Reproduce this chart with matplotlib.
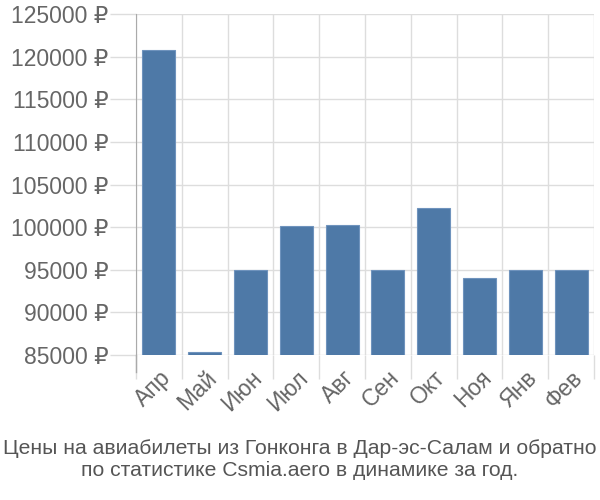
import matplotlib
matplotlib.use("Agg")
import matplotlib.pyplot as plt
import numpy as np

# monthly ticket prices, RUB
months = ['Апр', 'Май', 'Июн', 'Июл', 'Авг', 'Сен', 'Окт', 'Ноя', 'Янв', 'Фев']
prices = [120800, 85300, 95000, 100170, 100300, 95000, 102300, 94050, 95000, 95000]
y_ticks = list(range(85000, 125001, 5000))

plt.rcParams['font.family'] = ['Liberation Sans', 'DejaVu Sans']

fig = plt.figure(figsize=(6, 5), dpi=100)
ax = fig.add_axes([0.2267, 0.29, 0.7633, 0.682])

x = np.arange(len(months))
ax.bar(x, prices, width=0.72, color='#4e79a7', edgecolor='#6f93bd', linewidth=0.8, zorder=3)

ax.set_xlim(-0.5, len(months) - 0.5)
ax.set_ylim(85000, 125000)

ax.set_yticks(y_ticks)
ax.set_yticklabels([f'{v} ₽' for v in y_ticks], fontsize=16.5, color='#666666')
ax.tick_params(axis='y', length=19, width=1, color='#dddddd', pad=1)

# category boundaries carry the vertical grid
ax.set_xticks(x)
ax.set_xticklabels(months, rotation=45, ha='right', rotation_mode='anchor',
                   fontsize=16.5, color='#666666')
ax.tick_params(axis='x', length=0, pad=8)
ax.set_xticks(np.arange(-0.5, len(months)), minor=True)
ax.tick_params(axis='x', which='minor', length=17, width=1, color='#dddddd')

ax.grid(True, which='minor', axis='x', color='#dddddd', linewidth=1, zorder=0)
ax.grid(True, which='major', axis='y', color='#dddddd', linewidth=1, zorder=0)

for side in ['top', 'right', 'bottom']:
    ax.spines[side].set_visible(False)
ax.spines['left'].set_color('#aaaaaa')
ax.spines['left'].set_zorder(4)
ax.plot([-0.5, -0.5], [0, -0.05], transform=ax.get_xaxis_transform(),
        color='#aaaaaa', linewidth=1, clip_on=False, zorder=4)

fig.text(0.5, 0.081, 'Цены на авиабилеты из Гонконга в Дар-эс-Салам и обратно\n'
         'по статистике Csmia.aero в динамике за год.',
         ha='center', va='center', fontsize=15.2, color='#555555', linespacing=1.2)

fig.savefig('out.png', dpi=100)
